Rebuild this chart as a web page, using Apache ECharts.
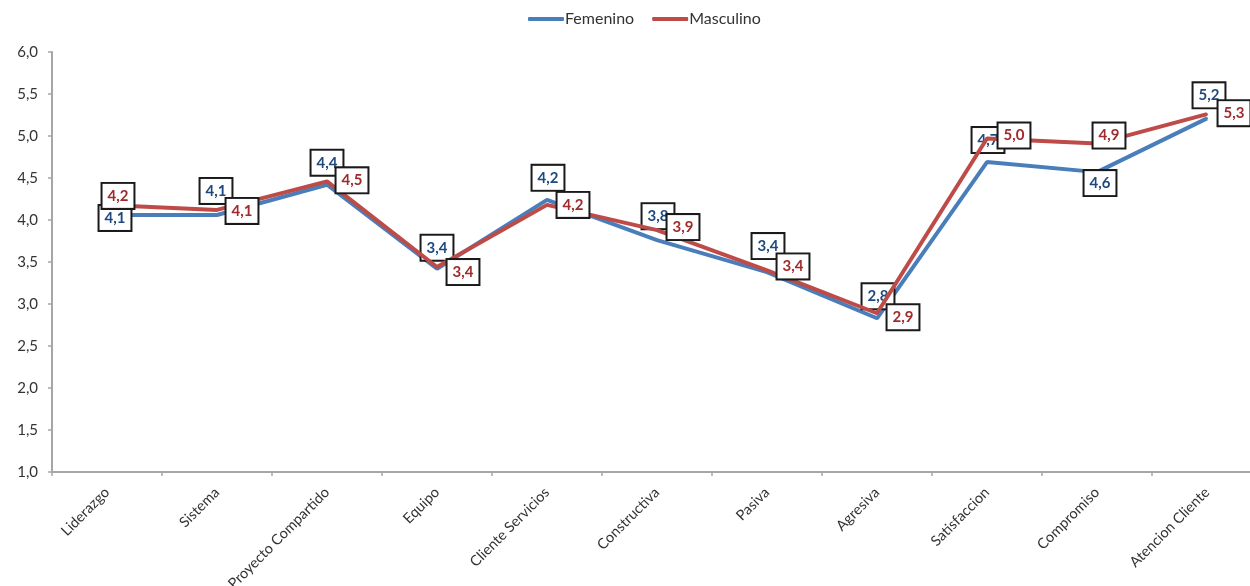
<!DOCTYPE html>
<html>
<head>
<meta charset="utf-8">
<script src="https://cdn.jsdelivr.net/npm/echarts@6/dist/echarts.min.js"></script>
<style>
  html, body { margin: 0; padding: 0; background: #fff; }
  #chart { width: 1250px; height: 586px; }
</style>
</head>
<body>
<div id="chart"></div>
<script>
// Dimensiones evaluadas
const categories = ['Liderazgo', 'Sistema', 'Proyecto Compartido', 'Equipo', 'Cliente Servicios',
  'Constructiva', 'Pasiva', 'Agresiva', 'Satisfaccion', 'Compromiso', 'Atencion Cliente'];

// Puntaje medio por sexo
const femenino = [4.06, 4.06, 4.42, 3.42, 4.24, 3.76, 3.38, 2.83, 4.69, 4.57, 5.21];
const masculino = [4.18, 4.12, 4.46, 3.44, 4.18, 3.88, 3.40, 2.89, 4.97, 4.91, 5.26];

// Escala del eje Y
const yMin = 1, yMax = 6, yStep = 0.5;

const fmt = v => v.toFixed(1).replace('.', ',');

// Desplazamiento de cada etiqueta respecto a su punto
const femShift = [[8, 3], [-1, -24], [0, -22], [0, -21], [1, -22], [1, -24], [1, -26], [1, -22], [1, -22], [3, 11], [2, -23]];
const masShift = [[11, -9], [25, 1], [25, -1], [26, 5], [26, 0], [26, -3], [26, -4], [26, 4], [27, -3], [12, -8], [27, -1]];

function boxLabel(textColor) {
  return {
    show: true,
    position: 'inside',
    formatter: p => fmt(p.value),
    color: textColor,
    fontFamily: 'Lato',
    fontWeight: 'bold',
    fontSize: 15,
    backgroundColor: '#fff',
    borderColor: '#1a1a1a',
    borderWidth: 2,
    padding: [4, 5, 3, 5],
    lineHeight: 17
  };
}

const chart = echarts.init(document.getElementById('chart'));
chart.setOption({
  animation: false,
  legend: {
    top: 6,
    left: 523,
    itemWidth: 36,
    itemHeight: 4,
    itemGap: 18,
    icon: 'roundRect',
    textStyle: { fontFamily: 'Lato', fontSize: 16, color: '#333', padding: [0, 0, 0, -4] },
    data: ['Femenino', 'Masculino']
  },
  grid: { left: 52, top: 52, width: 1210, height: 420, containLabel: false, outerBoundsMode: 'none' },
  xAxis: {
    type: 'category',
    data: categories,
    boundaryGap: true,
    axisLine: { lineStyle: { color: '#a6a6a6', width: 2 } },
    axisTick: { show: true, length: 4, lineStyle: { color: '#a6a6a6', width: 1.5 } },
    axisLabel: { rotate: 45, margin: 18, fontFamily: 'Lato', fontSize: 14.5, color: '#333', interval: 0 },
    splitLine: { show: false }
  },
  yAxis: {
    type: 'value',
    min: yMin,
    max: yMax,
    interval: yStep,
    axisLine: { show: true, lineStyle: { color: '#a6a6a6', width: 2 } },
    axisTick: { show: true, length: 4, lineStyle: { color: '#a6a6a6', width: 1.5 } },
    axisLabel: { formatter: v => fmt(v), margin: 14, fontFamily: 'Lato', fontSize: 15, color: '#333' },
    splitLine: { show: false }
  },
  series: [
    {
      name: 'Femenino',
      type: 'line',
      symbol: 'circle',
      symbolSize: 2,
      color: '#4a7ebb',
      lineStyle: { color: '#4a7ebb', width: 4 },
      data: femenino.map((v, i) => ({ value: v, label: { offset: femShift[i] } })),
      label: boxLabel('#1f497d'),
      z: 2
    },
    {
      name: 'Masculino',
      type: 'line',
      symbol: 'circle',
      symbolSize: 2,
      color: '#be4b48',
      lineStyle: { color: '#be4b48', width: 4 },
      data: masculino.map((v, i) => ({ value: v, label: { offset: masShift[i] } })),
      label: boxLabel('#a02b2b'),
      z: 3
    }
  ]
});
</script>
</body>
</html>
